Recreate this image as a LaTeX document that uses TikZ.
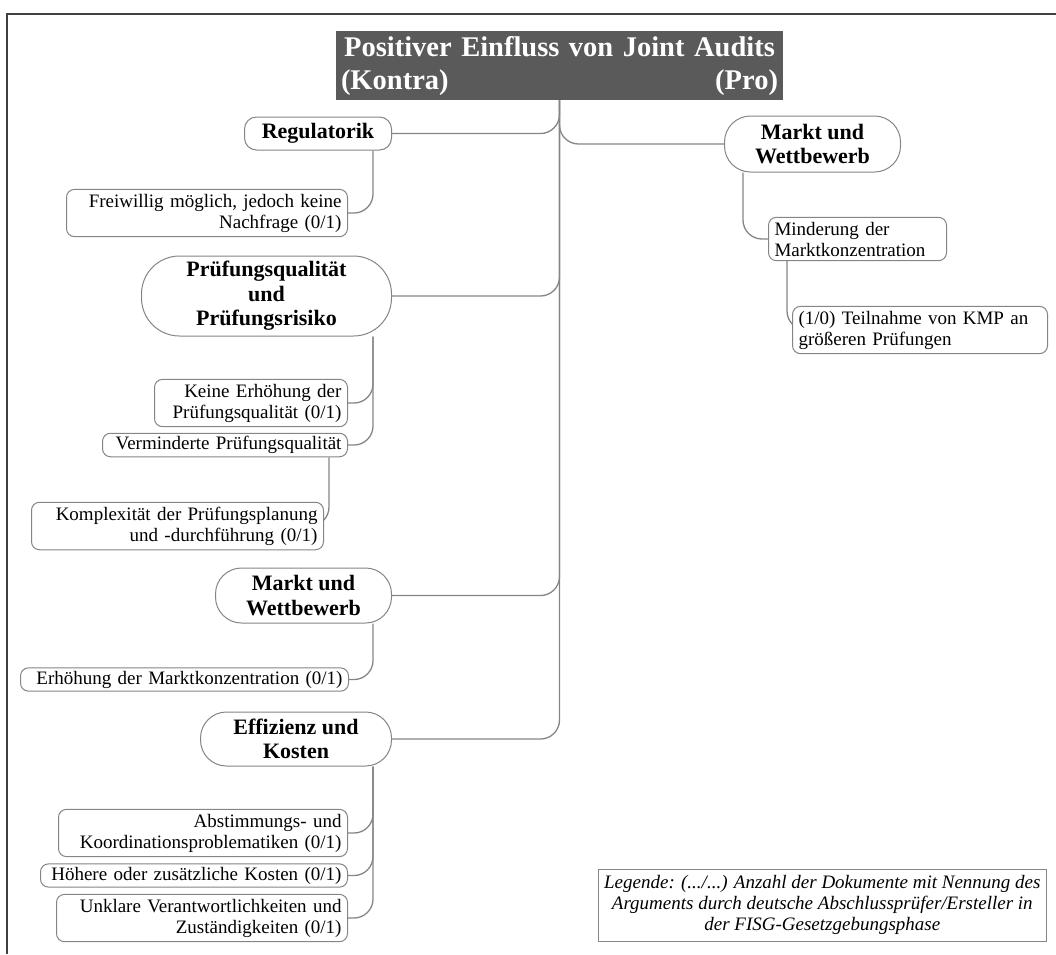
\documentclass[tikz,border=0pt]{standalone}
\usepackage{fontspec}
\setmainfont{Liberation Serif}
\usetikzlibrary{calc}
\pgfdeclarelayer{background}
\pgfsetlayers{background,main}
\definecolor{framegray}{HTML}{404040}
\definecolor{titlegray}{HTML}{5A5A5A}
\definecolor{linegray}{HTML}{858585}

\begin{document}
\begin{tikzpicture}[x=1pt,y=-1pt,
  conn/.style={draw=linegray, line width=1.3pt, rounded corners=19pt},
  titlebox/.style={fill=titlegray, text=white, font=\bfseries\fontsize{28.5}{33}\selectfont,
    text width=437pt, align=center, inner xsep=5pt, inner ysep=0pt, minimum height=69pt},
  catbox/.style={draw=linegray, line width=1pt, fill=white, align=center, inner sep=2pt,
    font=\bfseries\fontsize{22}{24.5}\selectfont},
  itembox/.style={draw=linegray, line width=1pt, fill=white, rounded corners=8pt,
    font=\fontsize{19}{21}\selectfont, inner xsep=6pt, inner ysep=4.5pt},
  leftitem/.style={itembox, anchor=east, align=right},
  rightitem/.style={itembox, anchor=west, align=left},
  legendbox/.style={draw=linegray, line width=1pt, fill=white, align=center,
    font=\itshape\fontsize{19}{21}\selectfont, anchor=east,
    minimum height=72pt, inner xsep=6pt, inner ysep=0pt}
]
\useasboundingbox (0,0) rectangle (1056,954);

% outer frame (top and left edges)
\draw[framegray, line width=2pt, line join=miter] (1056,14) -- (7,14) -- (7,954);

% root
\node[titlebox] (title) at (559.5,65.5)
  {\mbox{Positiver Einfluss von Joint Audits}\\(Kontra)\hfill(Pro)};

% categories, Kontra side
\node[catbox, anchor=east, minimum width=147pt, minimum height=33pt, rounded corners=12pt]
  (reg) at (392,133.5) {Regulatorik};
\node[catbox, anchor=east, minimum width=250pt, minimum height=80pt, rounded corners=38pt]
  (pq) at (392,296) {Prüfungsqualität\\und\\Prüfungsrisiko};
\node[catbox, anchor=east, minimum width=176pt, minimum height=55pt, rounded corners=26pt]
  (ml) at (392,595.5) {Markt und\\Wettbewerb};
\node[catbox, anchor=east, minimum width=191pt, minimum height=54pt, rounded corners=26pt]
  (eff) at (392,739) {Effizienz und\\Kosten};

% category, Pro side
\node[catbox, anchor=west, minimum width=176pt, minimum height=56pt, rounded corners=26pt]
  (mr) at (724,144) {Markt und\\Wettbewerb};

% arguments, Kontra side
\node[leftitem, text width=269pt] (frei) at (348,213)
  {Freiwillig möglich, jedoch keine\\Nachfrage (0/1)};
\node[leftitem, text width=181pt] (keine) at (348,403)
  {Keine Erhöhung der\\Prüfungsqualität (0/1)};
\node[leftitem, text width=233pt, inner ysep=3pt] (verm) at (348,445)
  {Verminderte Prüfungsqualität};
\node[leftitem, text width=280pt] (kompl) at (324,526)
  {Komplexität der Prüfungsplanung\\und -durchführung (0/1)};
\node[leftitem, text width=316pt, inner ysep=3pt] (erh) at (349,679.5)
  {Erhöhung der Marktkonzentration (0/1)};
\node[leftitem, text width=277pt] (abst) at (348,833)
  {Abstimmungs- und\\Koordinationsproblematiken (0/1)};
\node[leftitem, text width=295pt, inner ysep=3pt] (hoeh) at (348,875.5)
  {Höhere oder zusätzliche Kosten (0/1)};
\node[leftitem, text width=279pt] (unkl) at (348,918)
  {Unklare Verantwortlichkeiten und\\Zuständigkeiten (0/1)};

% arguments, Pro side
\node[rightitem, text width=166pt] (mind) at (768,239)
  {Minderung der\\Marktkonzentration};
\node[rightitem, text width=243pt] (teil) at (792,330)
  {(1/0) Teilnahme von KMP an\\größeren Prüfungen};

% legend
\node[legendbox] (legend) at (1047,905)
  {Legende: (.../...) Anzahl der Dokumente mit Nennung des\\
   Arguments durch deutsche Abschlussprüfer/Ersteller in\\
   der FISG-Gesetzgebungsphase};

% x positions of the drop lines below the boxes
\coordinate (dropL) at (373,0);
\coordinate (dropV) at (329,0);
\coordinate (dropMR) at (743,0);
\coordinate (dropMind) at (787,0);

\begin{pgfonlayer}{background}
  % trunk and category branches
  \draw[conn] (title.south) |- (reg.east);
  \draw[conn] (title.south) |- (mr.west);
  \draw[conn] (title.south) |- (pq.east);
  \draw[conn] (title.south) |- (ml.east);
  \draw[conn] (title.south) |- (eff.east);
  % argument branches
  \draw[conn] (reg.south -| dropL) |- (frei.east);
  \draw[conn] (pq.south -| dropL) |- (keine.east);
  \draw[conn] (pq.south -| dropL) |- (verm.east);
  \draw[conn] (verm.south -| dropV) |- (kompl.east);
  \draw[conn] (ml.south -| dropL) |- (erh.east);
  \draw[conn] (eff.south -| dropL) |- (abst.east);
  \draw[conn] (eff.south -| dropL) |- (hoeh.east);
  \draw[conn] (eff.south -| dropL) |- (unkl.east);
  \draw[conn] (mr.south -| dropMR) |- (mind.west);
  \draw[conn] (mind.south -| dropMind) |- (teil.west);
\end{pgfonlayer}
\end{tikzpicture}
\end{document}
